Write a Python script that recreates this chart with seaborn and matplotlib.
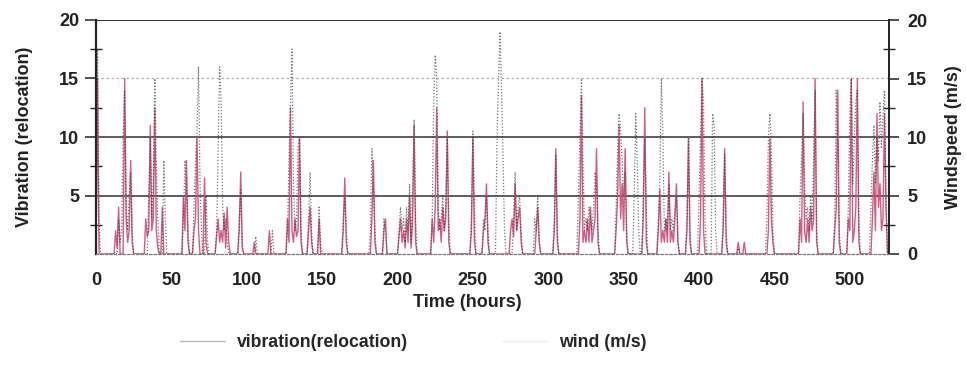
import matplotlib
matplotlib.use("Agg")
import matplotlib.pyplot as plt
import seaborn as sns
import pandas as pd
from matplotlib.lines import Line2D

# ---------------- data ----------------
vib_hours = [0, 1, 2,
             12, 13, 14, 15, 16,
             18, 19, 20, 21, 22, 23, 24, 25,
             32, 33, 34, 35, 36, 37, 38, 39, 40, 41, 42,
             43, 44, 45,
             57, 58, 59, 60, 61, 62,
             64, 65, 66, 67, 68, 69,
             71, 72, 73, 74,
             79, 80, 81, 82, 83, 84, 85, 86, 87, 88, 89,
             94, 95, 96, 97, 98,
             104, 105, 106,
             114, 115, 116,
             126, 127, 128, 129, 130, 131, 132, 133, 134, 135, 136, 137,
             140, 141, 142, 143, 144,
             147, 148, 149,
             163, 164, 165, 166, 167,
             182, 183, 184, 185, 186,
             190, 191, 192, 193,
             200, 201, 202, 203, 204, 205, 206, 207, 208, 209, 210, 211, 212, 213,
             222, 223, 224, 225, 226, 227, 228, 229, 230, 231, 232, 233, 234, 235,
             248, 249, 250, 251, 252,
             256, 257, 258, 259, 260, 261,
             274, 275, 276, 277, 278, 279, 280, 281, 282, 283,
             291, 292, 293, 294, 295,
             303, 304, 305, 306, 307,
             320, 321, 322, 323, 324, 325, 326, 327, 328, 329, 330, 331, 332, 333, 334,
             344, 345, 346, 347, 348, 349, 350, 351, 352, 353,
             362, 363, 364, 365, 366,
             372, 373, 374, 375, 376, 377, 378, 379, 380, 381, 382, 383, 384, 385, 386, 387,
             391, 392, 393, 394, 395,
             400, 401, 402, 403, 404,
             415, 416, 417, 418, 419,
             425, 426, 427, 429, 430, 431,
             445, 446, 447, 448, 449, 450,
             466, 467, 468, 469, 470, 471, 472, 473, 474, 475, 476, 477, 478, 479,
             489, 490, 491, 492, 493, 494,
             498, 499, 500, 501, 502, 503, 504, 505, 506, 507,
             514, 515, 516, 517, 518, 519, 520, 521, 522, 523, 524, 525]
vib_values = [0, 15, 0,
              0, 2, 0.5, 4, 0,
              0, 15, 3, 1, 2, 8, 1, 0,
              0, 3, 1.5, 2, 11, 2, 3, 12.5, 2, 0.5, 0,
              0, 4, 0,
              0, 5, 2, 8, 1, 0,
              0, 2, 3, 10, 2, 0,
              0, 6.5, 1, 0,
              0, 1.5, 3, 1, 2, 1, 3.5, 0.5, 4, 1, 0,
              0, 2, 7, 0.5, 0,
              0, 1, 0,
              0, 2, 0,
              0, 3, 1, 12.5, 2, 1, 3, 1.5, 2, 10, 1, 0,
              0, 2, 4, 1, 0,
              0, 3, 0,
              0, 2, 6.5, 1, 0,
              0, 3, 8, 1, 0,
              0, 2, 3, 0,
              0, 1.5, 3, 1, 2, 0.5, 3, 1, 5, 0.5, 3, 11, 1, 0,
              0, 3, 1, 4, 12.5, 2, 3, 1, 4, 2, 3, 10.5, 1, 0,
              0, 2, 10, 1, 0,
              0, 2, 3, 6, 1, 0,
              0, 2, 3, 1.5, 6, 2, 3, 4, 1, 0,
              0, 2, 4, 1, 0,
              0, 2, 9, 1, 0,
              0, 3, 13.5, 1, 2, 1, 3, 1, 4, 1, 2, 3, 9, 1, 0,
              0, 2, 5, 11, 3, 6, 2, 9, 1, 0,
              0, 3, 12.5, 1, 0,
              0, 2, 5.5, 1, 2, 1, 3, 1, 7, 1, 2, 1, 3, 6, 1, 0,
              0, 2, 10, 1, 0,
              0, 3, 15, 2, 0,
              0, 2, 9, 1, 0,
              0, 1, 0, 0, 1, 0,
              0, 2, 10, 3, 1, 0,
              0, 3, 1, 13, 2, 1, 3, 1, 4, 2, 3, 15, 1, 0,
              0, 2, 4, 14, 1, 0,
              0, 3, 2, 15, 1, 2, 4, 15, 1, 0,
              0, 3, 7, 2, 12, 4, 6, 2, 3, 12, 4, 0]

wind_hours = [0, 1, 2, 3,
              14, 15, 16, 17, 18, 19, 20, 21, 22, 23, 24, 25,
              34, 35, 36, 37, 38, 39, 40, 41, 42,
              44, 45, 46, 47,
              57, 58, 59, 60, 61, 62,
              64, 65, 66, 67, 68, 69, 70, 71,
              72, 73, 74, 75,
              79, 80, 81, 82, 83, 84, 85, 86, 87, 88,
              94, 95, 96, 97, 98,
              105, 106, 107,
              116, 117, 118,
              126, 127, 128, 129, 130, 131, 132, 133, 134, 135, 136, 137,
              140, 141, 142, 143, 144,
              147, 148, 149, 150,
              163, 164, 165, 166, 167,
              181, 182, 183, 184, 185, 186,
              190, 191, 192, 193,
              200, 201, 202, 203, 204, 205, 206, 207, 208, 209, 210, 211, 212, 213,
              222, 223, 224, 225, 226, 227, 228, 229, 230, 231, 232, 233, 234, 235,
              248, 249, 250, 251, 252,
              256, 257, 258, 259, 260, 261,
              265, 266, 267, 268, 269, 270, 271, 272,
              276, 277, 278, 279, 280, 281, 282, 283,
              290, 291, 292, 293, 294, 295,
              303, 304, 305, 306, 307,
              319, 320, 321, 322, 323, 324, 325, 326, 327, 328, 329, 330, 331, 332, 333, 334,
              344, 345, 346, 347, 348, 349, 350, 351, 352, 353,
              356, 357, 358, 359, 360, 361,
              362, 363, 364, 365, 366,
              372, 373, 374, 375, 376, 377, 378, 379, 380, 381, 382, 383, 384, 385, 386, 387,
              391, 392, 393, 394, 395,
              399, 400, 401, 402, 403, 404, 405,
              408, 409, 410, 411, 412,
              415, 416, 417, 418, 419,
              425, 426, 427,
              444, 445, 446, 447, 448, 449, 450,
              466, 467, 468, 469, 470, 471, 472, 473, 474, 475, 476, 477, 478, 479,
              489, 490, 491, 492, 493, 494,
              498, 499, 500, 501, 502, 503, 504, 505, 506, 507,
              513, 514, 515, 516, 517, 518, 519, 520, 521, 522, 523, 524, 525]
wind_values = [0, 17.5, 3, 0,
               0, 3, 1, 2, 10, 14, 4, 2, 5, 7, 2, 0,
               0, 5, 10, 3, 6, 15, 8, 3, 0,
               0, 8, 3, 0,
               0, 3, 8, 6, 2, 0,
               0, 4, 8, 10.5, 16, 6, 2, 0,
               0, 5, 1, 0,
               0, 2, 9, 16, 13, 4, 2, 3, 1, 0,
               0, 3, 5.5, 1, 0,
               0, 1.5, 0,
               0, 2, 0,
               0, 2, 8, 13, 17.5, 6, 2, 3, 9, 10, 2, 0,
               0, 3, 7, 2, 0,
               0, 4, 1, 0,
               0, 3, 5, 2, 0,
               0, 2, 9, 6, 2, 0,
               0, 3, 2, 0,
               0, 2, 4, 2, 3, 1, 4, 2, 6, 1, 5, 11.5, 3, 0,
               0, 3, 13, 17, 15, 4, 2, 3, 5, 2, 4, 10, 3, 0,
               0, 3, 10.5, 4, 0,
               0, 3, 2, 5, 2, 0,
               0, 10, 15, 19, 14, 8, 2, 0,
               0, 3, 7, 2, 4, 5, 2, 0,
               0, 3, 2, 5, 1, 0,
               0, 3, 8.5, 2, 0,
               0, 5, 10, 15, 8, 2, 3, 2, 4, 3, 2, 4, 7, 6, 2, 0,
               0, 4, 9, 12, 10.5, 8, 5, 7, 2, 0,
               0, 5, 12, 8, 2, 0,
               0, 5, 10, 4, 0,
               0, 3, 6, 15, 10, 2, 3, 2, 6, 2, 3, 2, 4, 5, 1, 0,
               0, 3, 10, 2, 0,
               0, 5, 10, 15, 13, 3, 0,
               0, 12, 11, 2, 0,
               0, 3, 8.5, 2, 0,
               0, 0.5, 0,
               0, 3, 10, 12, 9, 2, 0,
               0, 5, 8, 12, 6, 3, 4, 2, 5, 3, 8, 14, 2, 0,
               0, 3, 14, 10, 2, 0,
               0, 4, 12, 15, 6, 10, 13, 14, 3, 0,
               0, 4, 8, 11, 6, 10, 8, 13, 9, 12, 14, 5, 0]

x_ticks = [0, 50, 100, 150, 200, 250, 300, 350, 400, 450, 500]
left_ticks = [5, 10, 15, 20]
right_ticks = [0, 5, 10, 15, 20]
series_names = ["vibration(relocation)", "wind (m/s)"]

vib_df = pd.DataFrame({"hour": vib_hours, "value": vib_values})
wind_df = pd.DataFrame({"hour": wind_hours, "value": wind_values})

# ---------------- styling ----------------
sns.set_theme(style="white")
plt.rcParams["font.family"] = ["Liberation Sans", "DejaVu Sans"]
plt.rcParams["font.weight"] = "bold"

FS = 13
fig = plt.figure(figsize=(9.66, 3.79), dpi=100)
ax = fig.add_axes([96 / 966, 1 - 254 / 379, 793 / 966, 234 / 379])
ax2 = ax.twinx()

vib_color = "#cc4a78"
wind_color = "#3a3a3a"

sns.lineplot(data=vib_df, x="hour", y="value", ax=ax, estimator=None, sort=False,
             color=vib_color, linewidth=1.0, alpha=0.9)
sns.lineplot(data=wind_df, x="hour", y="value", ax=ax2, estimator=None, sort=False,
             color=wind_color, linewidth=0.9, linestyle=(0, (1, 1.5)), alpha=0.7)

for a in (ax, ax2):
    a.set_xlim(0, 526)
    a.set_ylim(0, 20)
    a.grid(False)
    a.set_facecolor("none")

# grid lines
for yv, st, col, lw in [(5, "-", "#303030", 1.1), (10, "-", "#303030", 1.1),
                        (15, (0, (2, 2)), "#b0b0b0", 0.9), (20, "-", "#303030", 1.4)]:
    ax.axhline(yv, color=col, linestyle=st, linewidth=lw, zorder=0.5)

ax.set_xticks(x_ticks)
ax.set_xticklabels([str(v) for v in x_ticks], fontsize=FS, fontweight="bold")
ax.tick_params(axis="x", length=0, pad=13, colors="#222222")

ax.set_yticks(left_ticks)
ax.set_yticklabels([str(v) for v in left_ticks], fontsize=FS, fontweight="bold")
ax.set_yticks([2.5, 7.5, 12.5, 17.5], minor=True)
ax.tick_params(axis="y", which="major", direction="out", length=8, width=1.1, pad=4,
               colors="#222222", left=True)
ax.tick_params(axis="y", which="minor", direction="inout", length=9, width=1.0, left=True,
               colors="#222222")

ax2.set_yticks(right_ticks)
ax2.set_yticklabels([str(v) for v in right_ticks], fontsize=FS, fontweight="bold")
ax2.set_yticks([2.5, 7.5, 12.5, 17.5], minor=True)
ax2.tick_params(axis="y", which="major", direction="out", length=7, width=1.1, pad=6,
                colors="#222222", right=True)
ax2.tick_params(axis="y", which="minor", direction="inout", length=9, width=1.0, right=True,
                colors="#222222")

for a in (ax, ax2):
    a.spines["top"].set_visible(False)
    a.spines["bottom"].set_linestyle((0, (2, 2)))
    a.spines["bottom"].set_color("#777777")
    a.spines["bottom"].set_linewidth(0.8)
ax.spines["left"].set_color("#222222")
ax.spines["left"].set_linewidth(1.6)
ax.spines["right"].set_visible(False)
ax2.spines["left"].set_visible(False)
ax2.spines["right"].set_color("#222222")
ax2.spines["right"].set_linewidth(1.4)

ax.set_xlabel("Time (hours)", fontsize=FS, fontweight="bold", color="#222222")
ax.xaxis.set_label_coords(0.468, -0.17)
ax.set_ylabel("Vibration (relocation)", fontsize=FS, fontweight="bold", color="#222222",
              labelpad=19)
ax2.set_ylabel("Windspeed (m/s)", fontsize=FS, fontweight="bold", color="#222222",
               labelpad=13)

handles = [Line2D([], [], color="#b8b8b8", linewidth=1.0),
           Line2D([], [], color="#eeeeee", linewidth=1.0)]
fig.legend(handles, series_names, loc="center", bbox_to_anchor=(0.428, 0.095), ncol=2,
           frameon=False, handlelength=2.55, handletextpad=0.7, columnspacing=5.3,
           prop={"size": 12.7, "weight": "bold"})

fig.savefig("out.png", dpi=100)
